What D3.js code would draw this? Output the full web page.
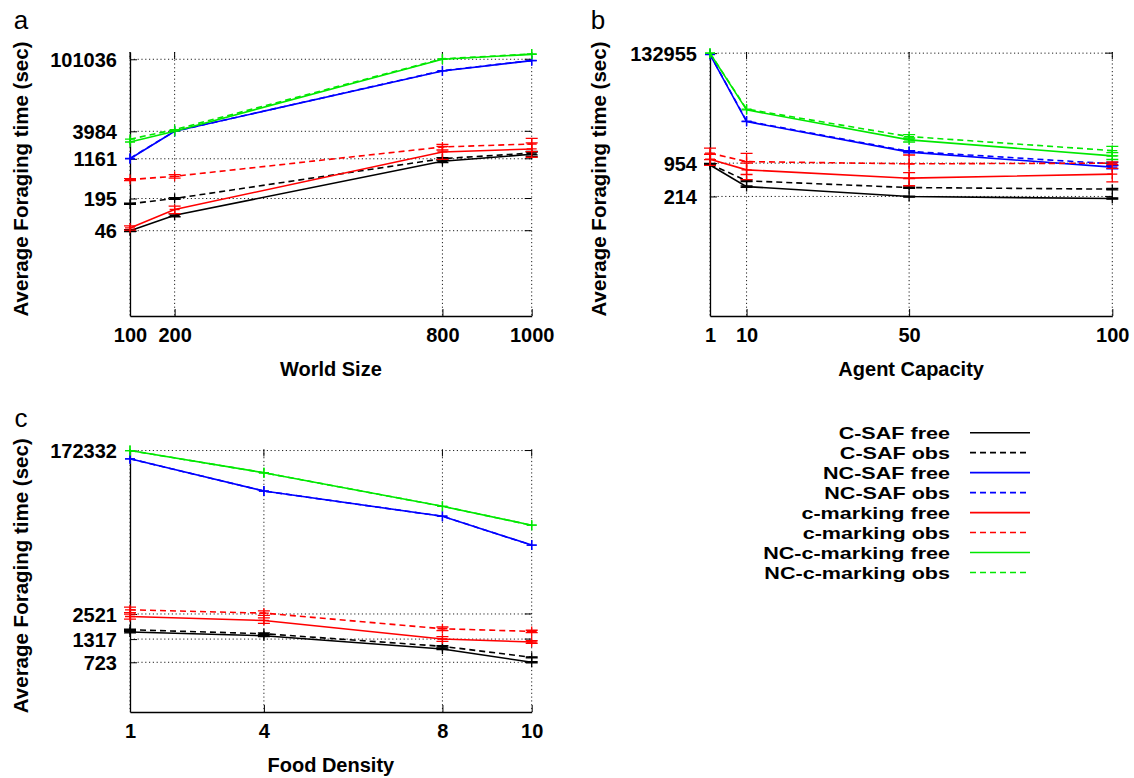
<!DOCTYPE html>
<html><head><meta charset="utf-8">
<script src="https://cdn.jsdelivr.net/npm/d3@7"></script>
<style>
html,body{margin:0;padding:0;background:#fff;}
svg text{font-family:"Liberation Sans",Arial,Helvetica,sans-serif;}
</style></head>
<body><svg id="chart" width="1134" height="778"></svg>
<script>
// ---------- data ----------
const seriesNames = ["C-SAF free","C-SAF obs","NC-SAF free","NC-SAF obs","c-marking free","c-marking obs","NC-c-marking free","NC-c-marking obs"];
const seriesColors = ["#000000","#000000","#0000ff","#0000ff","#ff0000","#ff0000","#00e800","#00e800"];
const seriesDashed = [false,true,false,true,false,true,false,true];

// Panel a: World Size
const xA = [100,200,800,1000];
const yTicksA = [46,195,1161,3984,101036];
const csafFreeA   = [46, 92, 1036, 1420];
const csafObsA    = [154, 195, 1166, 1500];
const ncsafFreeA  = [1161, 3984, 59900, 94900];
const ncsafObsA   = [1185, 3984, 60500, 95500];
const cmarkFreeA  = [52, 119, 1577, 1803];
const cmarkObsA   = [456, 529, 1972, 2255];
const ncmarkFreeA = [2465, 4000, 101036, 126000];
const ncmarkObsA  = [2795, 4300, 103000, 128000];
const errA = [[2,6,60,150],[4,8,60,120],[0,0,0,0],[0,0,0,0],[5,20,450,560],[20,40,250,650],[0,0,0,0],[0,0,0,0]];

// Panel b: Agent Capacity
const xB = [1,10,50,100];
const yTicksB = [214,954,132955];
const csafFreeB   = [880, 333, 213, 195];
const csafObsB    = [920, 431, 319, 297];
const ncsafFreeB  = [125000, 6173, 1563, 797];
const ncsafObsB   = [126000, 6300, 1620, 925];
const cmarkFreeB  = [1141, 706, 486, 582];
const cmarkObsB   = [1495, 1023, 925, 954];
const ncmarkFreeB = [132955, 10430, 2716, 1324];
const ncmarkObsB  = [132955, 10800, 3146, 1677];
const errB = [[20,10,5,5],[20,15,10,10],[0,0,50,60],[0,0,60,60],[280,250,140,170],[380,450,450,60],[0,0,250,200],[0,0,300,350]];

// Panel c: Food Density
const xC = [1,4,8,10];
const yTicksC = [723,1317,2521,172332];
const csafFreeC   = [1580, 1436, 1021, 723];
const csafObsC    = [1677, 1513, 1092, 822];
const ncsafFreeC  = [139200, 60460, 31520, 14950];
const ncsafObsC   = [139200, 60460, 31520, 14950];
const cmarkFreeC  = [2362, 2131, 1320, 1222];
const cmarkObsC   = [2806, 2577, 1721, 1606];
const ncmarkFreeC = [172332, 97100, 40780, 25000];
const ncmarkObsC  = [172332, 97100, 40780, 25000];
const errC = [[30,30,20,10],[30,30,20,10],[0,0,0,0],[0,0,0,0],[150,150,80,40],[200,150,80,50],[0,0,0,0],[0,0,0,0]];

const yLabel = "Average Foraging time (sec)";

// ---------- drawing ----------
const svg = d3.select("#chart");
const FONT = 20;

function drawPanel(p){
  const g = svg.append("g");
  const x = d3.scaleLinear().domain(p.xDomain).range([p.left,p.right]);
  const y = d3.scaleLog().domain(p.yDomain).range([p.bottom,p.top]);

  // grid (dotted)
  const grid = g.append("g").attr("stroke","#222").attr("stroke-width",1).attr("stroke-dasharray","1.2,2.6");
  p.yTicks.forEach(v=>{
    grid.append("line").attr("x1",p.left).attr("x2",p.right).attr("y1",y(v)).attr("y2",y(v));
  });
  p.xs.forEach(v=>{
    grid.append("line").attr("x1",x(v)).attr("x2",x(v)).attr("y1",p.top).attr("y2",p.bottom);
  });

  // mirrored ticks (top and right)
  const mt = g.append("g").attr("stroke","#000").attr("stroke-width",1);
  p.xs.forEach(v=>{ mt.append("line").attr("x1",x(v)).attr("x2",x(v)).attr("y1",p.top).attr("y2",p.top+7); });
  p.yTicks.forEach(v=>{ mt.append("line").attr("x1",p.right).attr("x2",p.right-7).attr("y1",y(v)).attr("y2",y(v)); });

  // axes
  const ax = g.append("g").attr("transform",`translate(${p.left},0)`)
    .call(d3.axisLeft(y).tickValues(p.yTicks).tickFormat(d3.format("d")).tickSizeInner(-7).tickSizeOuter(0).tickPadding(13));
  const bx = g.append("g").attr("transform",`translate(0,${p.bottom})`)
    .call(d3.axisBottom(x).tickValues(p.xs).tickFormat(d3.format("d")).tickSizeInner(-7).tickSizeOuter(0).tickPadding(20));
  [ax,bx].forEach(a=>{
    a.selectAll("path.domain").attr("stroke","#000").attr("stroke-width",1.3);
    a.selectAll(".tick line").attr("stroke","#000").attr("stroke-width",1);
    a.selectAll(".tick text").attr("font-size",FONT).attr("font-weight","bold").attr("fill","#000")
      .attr("font-family",'"Liberation Sans",Arial,sans-serif');
  });
  ax.selectAll(".tick text").attr("dy","0.36em");
  bx.selectAll(".tick text").attr("dy","0.36em").attr("y",19);

  // series
  const line = d3.line().x(d=>x(d[0])).y(d=>y(d[1]));
  p.series.forEach((vals,i)=>{
    const pts = p.xs.map((xv,j)=>[xv,vals[j]]);
    const col = seriesColors[i];
    g.append("path").attr("d",line(pts)).attr("fill","none").attr("stroke",col)
      .attr("stroke-width",1.6).attr("stroke-dasharray",seriesDashed[i]?"6,4":null);
    const mk = g.append("g").attr("stroke",col).attr("stroke-width",1.3).attr("fill","none");
    pts.forEach((d,j)=>{
      const cx = x(d[0]), cy = y(d[1]);
      mk.append("path").attr("d",`M${cx-5},${cy}h10M${cx},${cy-5}v10`);
      const e = p.errs[i][j];
      if(e>0){
        const y1 = y(d[1]+e), y2 = y(Math.max(d[1]-e, p.yDomain[0]));
        mk.append("path").attr("d",`M${cx},${y1}V${y2}M${cx-6},${y1}h12M${cx-6},${y2}h12`);
      }
    });
  });

  // titles
  g.append("text").attr("x",(p.left+p.right)/2).attr("y",p.bottom+60)
    .attr("text-anchor","middle").attr("font-size",FONT).attr("font-weight","bold").text(p.xTitle);
  g.append("text").attr("transform",`translate(${p.yTitleX},${(p.top+p.bottom)/2-5}) rotate(-90)`)
    .attr("text-anchor","middle").attr("font-size",20.5).attr("font-weight","bold").text(yLabel);
  g.append("text").attr("x",p.letterX).attr("y",p.top-23).attr("text-anchor","middle")
    .attr("font-size",26).text(p.letter);
}

drawPanel({letter:"a", letterX:21, yTitleX:28, xTitle:"World Size",
  left:130, right:531.7, top:52, bottom:316, xDomain:[100,1000], yDomain:[1,140000],
  xs:xA, yTicks:yTicksA,
  series:[csafFreeA,csafObsA,ncsafFreeA,ncsafObsA,cmarkFreeA,cmarkObsA,ncmarkFreeA,ncmarkObsA], errs:errA});
drawPanel({letter:"b", letterX:598, yTitleX:606, xTitle:"Agent Capacity",
  left:710, right:1112.3, top:52, bottom:316, xDomain:[1,100], yDomain:[1,140000],
  xs:xB, yTicks:yTicksB,
  series:[csafFreeB,csafObsB,ncsafFreeB,ncsafObsB,cmarkFreeB,cmarkObsB,ncmarkFreeB,ncmarkObsB], errs:errB});
drawPanel({letter:"c", letterX:21, yTitleX:28, xTitle:"Food Density",
  left:130, right:531.7, top:449.5, bottom:712, xDomain:[1,10], yDomain:[200,177000],
  xs:xC, yTicks:yTicksC,
  series:[csafFreeC,csafObsC,ncsafFreeC,ncsafObsC,cmarkFreeC,cmarkObsC,ncmarkFreeC,ncmarkObsC], errs:errC});

// legend
const lg = svg.append("g");
const legendY = d3.scaleLinear().domain([0,7]).range([432.7,572.5]);
seriesNames.forEach((n,i)=>{
  const yy = legendY(i);
  lg.append("text").attr("transform",`translate(950,${yy}) scale(1.24,1)`).attr("dy","0.36em").attr("text-anchor","end")
    .attr("font-size",17.4).attr("font-weight","bold").text(n);
  lg.append("line").attr("x1",970).attr("x2",1030).attr("y1",yy).attr("y2",yy)
    .attr("stroke",seriesColors[i]).attr("stroke-width",1.6).attr("stroke-dasharray",seriesDashed[i]?"6,4":null);
});
</script></body></html>
